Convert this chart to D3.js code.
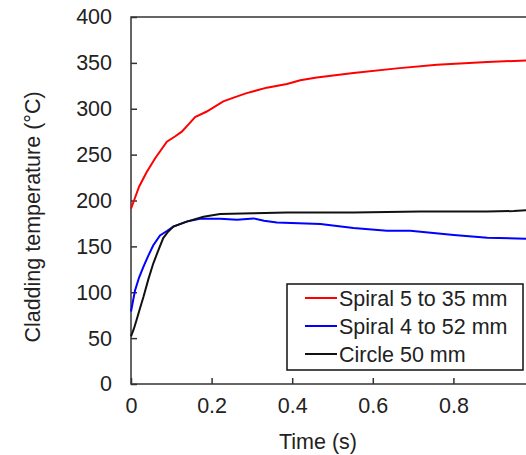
<!DOCTYPE html>
<html>
<head>
<meta charset="utf-8">
<script src="https://cdn.jsdelivr.net/npm/d3@7"></script>
<style>
  body { margin: 0; background: #fff; }
  svg { display: block; font-family: "Liberation Sans", Arial, sans-serif; }
</style>
</head>
<body>
<svg width="526" height="455"></svg>
<script>
// time (s) and cladding temperature (°C)
var redT = [0, 0.01, 0.02, 0.039, 0.06, 0.089, 0.11, 0.126, 0.145, 0.159, 0.188, 0.229, 0.26, 0.287, 0.337, 0.387, 0.42, 0.461, 0.552, 0.66, 0.759, 0.884, 1.0];
var redV = [191, 203, 215, 231, 246, 264, 270, 275, 284, 291, 297, 308, 313, 317, 323, 327, 331, 334, 339, 344, 348, 351, 353];

var blueT = [0, 0.01, 0.02, 0.031, 0.043, 0.055, 0.072, 0.09, 0.105, 0.138, 0.171, 0.221, 0.263, 0.304, 0.33, 0.362, 0.47, 0.552, 0.635, 0.693, 0.801, 0.884, 1.0];
var blueV = [79, 102, 116, 128, 140, 151, 162, 167, 171.5, 177, 180, 180, 179, 180.5, 178, 176, 174.5, 170, 167, 167, 162.5, 159.5, 158];

var blackT = [0, 0.007, 0.014, 0.022, 0.031, 0.043, 0.055, 0.068, 0.08, 0.092, 0.105, 0.138, 0.18, 0.221, 0.304, 0.387, 0.552, 0.718, 0.884, 0.95, 1.0];
var blackV = [52, 60, 70, 82, 95, 114, 131, 146, 159, 166, 171.5, 177, 182.3, 185.3, 186, 187, 187, 188, 188, 188.5, 190];

var seriesNames = ["Spiral 5 to 35 mm", "Spiral 4 to 52 mm", "Circle 50 mm"];
var seriesColors = ["#ff0000", "#0000ff", "#111111"];
var xTicks = [0, 0.2, 0.4, 0.6, 0.8];
var yTicks = [0, 50, 100, 150, 200, 250, 300, 350, 400];

var series = [
  {name: seriesNames[0], color: seriesColors[0], t: redT, v: redV},
  {name: seriesNames[1], color: seriesColors[1], t: blueT, v: blueV},
  {name: seriesNames[2], color: seriesColors[2], t: blackT, v: blackV}
];

var svg = d3.select("svg");
var pl = 131, pt = 17, pb = 384, pr = 534;
var fs = "21.5px";

var x = d3.scaleLinear().domain([0, 1]).range([pl, pr]);
var y = d3.scaleLinear().domain([0, 400]).range([pb, pt]);

// frame
svg.append("rect")
  .attr("x", pl).attr("y", pt)
  .attr("width", pr - pl).attr("height", pb - pt)
  .attr("fill", "none").attr("stroke", "#333").attr("stroke-width", 1.5);

// axes with inward ticks
var yAxis = svg.append("g")
  .attr("transform", `translate(${pl},0)`)
  .call(d3.axisLeft(y).tickValues(yTicks).tickSizeInner(-6).tickSizeOuter(0).tickPadding(19));
var xAxis = svg.append("g")
  .attr("transform", `translate(0,${pb})`)
  .call(d3.axisBottom(x).tickValues(xTicks).tickSizeInner(-6).tickSizeOuter(0).tickPadding(14)
    .tickFormat(d => d === 0 ? "0" : d3.format(".1f")(d)));
[xAxis, yAxis].forEach(function(a) {
  a.select(".domain").remove();
  a.selectAll("line").attr("stroke", "#333").attr("stroke-width", 1.5);
  a.selectAll("text").attr("fill", "#222").style("font-size", fs).style("font-family", "Liberation Sans, Arial, sans-serif");
});

// lines
var line = d3.line().x(d => x(d[0])).y(d => y(d[1]));
series.forEach(function(s) {
  svg.append("path")
    .datum(s.t.map((t, i) => [t, s.v[i]]))
    .attr("d", line)
    .attr("fill", "none")
    .attr("stroke", s.color)
    .attr("stroke-width", 2);
});

// axis titles
svg.append("text")
  .attr("x", 318).attr("y", 449)
  .attr("text-anchor", "middle")
  .style("font-size", fs).attr("fill", "#222")
  .text("Time (s)");
svg.append("text")
  .attr("transform", "translate(40,217) rotate(-90)")
  .attr("text-anchor", "middle")
  .style("font-size", fs).attr("fill", "#222")
  .text("Cladding temperature (°C)");

// legend
var lg = svg.append("g");
lg.append("rect")
  .attr("x", 287).attr("y", 284).attr("width", 236).attr("height", 86)
  .attr("fill", "#fff").attr("stroke", "#111").attr("stroke-width", 1.5);
series.forEach(function(s, i) {
  var cy = 298 + i * 28;
  lg.append("line")
    .attr("x1", 305).attr("x2", 337).attr("y1", cy).attr("y2", cy)
    .attr("stroke", s.color).attr("stroke-width", 2);
  lg.append("text")
    .attr("x", 339).attr("y", cy).attr("dy", "0.35em")
    .style("font-size", fs).attr("fill", "#222")
    .text(s.name);
});
</script>
</body>
</html>
